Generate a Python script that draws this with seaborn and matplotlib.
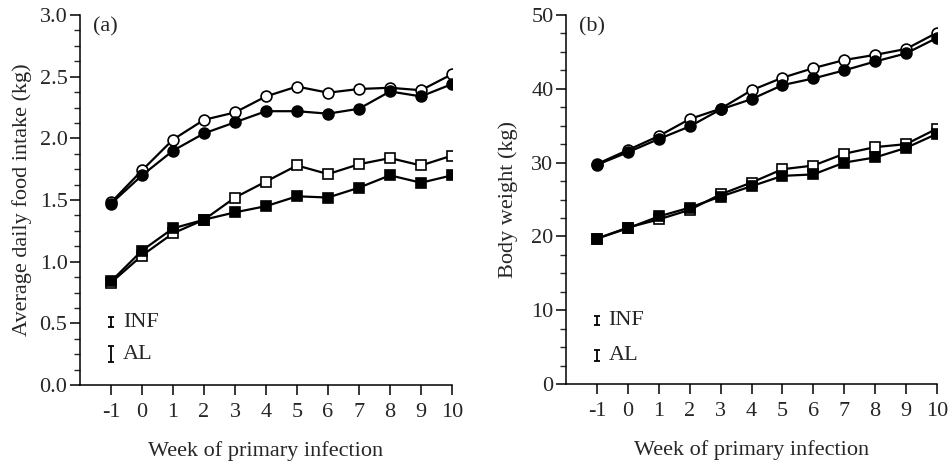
import matplotlib
matplotlib.use("Agg")
import matplotlib.pyplot as plt
from matplotlib.ticker import MultipleLocator, FormatStrFormatter
import seaborn as sns
import pandas as pd

# weeks of primary infection
weeks = [-1, 0, 1, 2, 3, 4, 5, 6, 7, 8, 9, 10]

# (a) average daily food intake (kg)
intake_open_circle = [1.48, 1.74, 1.99, 2.15, 2.21, 2.34, 2.42, 2.37, 2.40, 2.41, 2.39, 2.52]
intake_filled_circle = [1.47, 1.70, 1.90, 2.04, 2.13, 2.22, 2.22, 2.20, 2.24, 2.38, 2.34, 2.44]
intake_open_square = [0.83, 1.05, 1.23, 1.34, 1.52, 1.65, 1.78, 1.71, 1.79, 1.84, 1.78, 1.86]
intake_filled_square = [0.84, 1.09, 1.27, 1.34, 1.40, 1.45, 1.53, 1.52, 1.60, 1.70, 1.64, 1.70]

# (b) body weight (kg)
weight_open_circle = [29.8, 31.7, 33.6, 35.9, 37.3, 39.8, 41.5, 42.8, 43.9, 44.6, 45.4, 47.6]
weight_filled_circle = [29.7, 31.4, 33.2, 34.9, 37.2, 38.6, 40.5, 41.4, 42.5, 43.7, 44.8, 46.9]
weight_open_square = [19.7, 21.2, 22.3, 23.6, 25.7, 27.3, 29.1, 29.6, 31.2, 32.1, 32.5, 34.6]
weight_filled_square = [19.7, 21.1, 22.7, 23.9, 25.4, 26.8, 28.2, 28.4, 30.0, 30.7, 32.0, 33.9]

# SEM bars shown as legend
sem_labels = ["INF", "AL"]
intake_sem = [0.04, 0.065]
intake_sem_y = [0.51, 0.25]
weight_sem = [0.55, 0.75]
weight_sem_y = [8.6, 3.9]

sns.set_theme(style="ticks")
plt.rcParams['font.family'] = ['Liberation Serif', 'DejaVu Serif']
plt.rcParams['font.size'] = 16
plt.rcParams['axes.unicode_minus'] = False

fig = plt.figure(figsize=(9.51, 4.62), dpi=100)
ax_a = fig.add_axes([80 / 951, 1 - 385 / 462, 372 / 951, 370 / 462])
ax_b = fig.add_axes([566 / 951, 1 - 384 / 462, 371 / 951, 369 / 462])

styles = [
    dict(marker='o', markerfacecolor='white'),
    dict(marker='o', markerfacecolor='black'),
    dict(marker='s', markerfacecolor='white'),
    dict(marker='s', markerfacecolor='black'),
]


def draw_panel(ax, series, sems, sem_y, ylim, ymajor, yminor, yfmt, ylabel, tag, label_x):
    for vals, st in zip(series, styles):
        df = pd.DataFrame({'week': weeks, 'value': vals})
        sns.lineplot(data=df, x='week', y='value', ax=ax, color='black', lw=1.6,
                     markersize=7.8 if st['marker'] == 'o' else 7.5,
                     markeredgecolor='black', markeredgewidth=1.2, **st)
    for lab, s, yy in zip(sem_labels, sems, sem_y):
        ax.errorbar([-1], [yy], yerr=[s], fmt='none', ecolor='black', elinewidth=1.3,
                    capsize=2.5, capthick=1.3)
        ax.text(-0.62, yy, lab, ha='left', va='center', fontsize=16)

    ax.set_xlim(-2, 10)
    ax.set_ylim(*ylim)
    ax.set_xticks(weeks)
    ax.yaxis.set_major_locator(MultipleLocator(ymajor))
    ax.yaxis.set_minor_locator(MultipleLocator(yminor))
    ax.yaxis.set_major_formatter(FormatStrFormatter(yfmt))
    ax.tick_params(axis='both', which='major', direction='out', length=7, width=1.1,
                   labelsize=16, pad=2, color='black')
    ax.tick_params(axis='y', which='minor', direction='out', length=4, width=1.0)
    ax.tick_params(axis='x', pad=6)
    sns.despine(ax=ax)
    for sp in ['left', 'bottom']:
        ax.spines[sp].set_linewidth(1.1)
        ax.spines[sp].set_color('black')
    ax.set_xlabel('Week of primary infection', fontsize=16, labelpad=14)
    ax.set_ylabel(ylabel, fontsize=16)
    ax.yaxis.set_label_coords(label_x, 0.5)
    ax.text(0.035, 0.995, tag, transform=ax.transAxes, ha='left', va='top', fontsize=16)


draw_panel(ax_a,
           [intake_open_circle, intake_filled_circle, intake_open_square, intake_filled_square],
           intake_sem, intake_sem_y, (0, 3.0), 0.5, 0.125, '%.1f',
           'Average daily food intake (kg)', '(a)', -0.128)
draw_panel(ax_b,
           [weight_open_circle, weight_filled_circle, weight_open_square, weight_filled_square],
           weight_sem, weight_sem_y, (0, 50), 10, 2.5, '%d',
           'Body weight (kg)', '(b)', -0.13)

fig.savefig('out.png', dpi=100)
